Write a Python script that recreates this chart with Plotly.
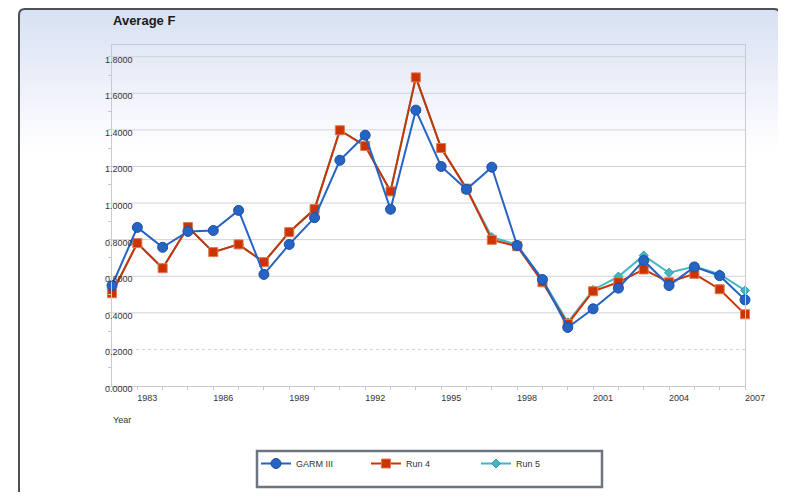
import plotly.graph_objects as go

YEARS = list(range(1982, 2008))
GARM_III = [0.549, 0.867, 0.758, 0.845, 0.850, 0.960, 0.610, 0.774, 0.920, 1.234,
            1.371, 0.966, 1.508, 1.200, 1.075, 1.196, 0.768, 0.582, 0.320, 0.422,
            0.535, 0.686, 0.549, 0.651, 0.603, 0.471]
RUN_4 = [0.507, 0.781, 0.644, 0.869, 0.732, 0.774, 0.677, 0.841, 0.967, 1.398,
         1.312, 1.064, 1.687, 1.301, 1.079, 0.799, 0.764, 0.567, 0.339, 0.518,
         0.567, 0.637, 0.567, 0.613, 0.529, 0.392]
RUN_5 = [0.507, 0.781, 0.644, 0.869, 0.732, 0.774, 0.677, 0.841, 0.967, 1.398,
         1.312, 1.064, 1.687, 1.301, 1.079, 0.814, 0.772, 0.580, 0.348, 0.525,
         0.598, 0.713, 0.619, 0.653, 0.611, 0.522]
Y_TICKS = [0.0, 0.2, 0.4, 0.6, 0.8, 1.0, 1.2, 1.4, 1.6, 1.8]
Y_TICK_TEXT = ["0.0000", "0.2000", "0.4000", "0.6000", "0.8000", "1.0000",
               "1.2000", "1.4000", "1.6000", "1.8000"]
X_LABEL_YEARS = [1983, 1986, 1989, 1992, 1995, 1998, 2001, 2004, 2007]

# page has an 8px default body margin on every side
OFF = 8
W, H = 786 - OFF, 500 - 2 * OFF
# plot area in screen pixels
L, R, T, B = 112, 745, 45, 386


def px(x):
    return (x - L) / (R - L)


def py(y):
    return (B - y) / (B - T)


fig = go.Figure()

BLUE = "#2563c4"
RED = "#cc3300"
TEAL = "#45b5c2"

fig.add_trace(go.Scatter(x=YEARS, y=RUN_5, name="Run 5", mode="lines+markers",
                         line=dict(color=TEAL, width=2),
                         marker=dict(symbol="diamond", size=7, color=TEAL,
                                     line=dict(color="#3a9aa6", width=1)),
                         cliponaxis=False))
fig.add_trace(go.Scatter(x=YEARS, y=RUN_4, name="Run 4", mode="lines+markers",
                         line=dict(color=RED, width=2),
                         marker=dict(symbol="square", size=9, color=RED,
                                     line=dict(color="#e07a50", width=1)),
                         cliponaxis=False))
fig.add_trace(go.Scatter(x=YEARS, y=GARM_III, name="GARM III", mode="lines+markers",
                         line=dict(color=BLUE, width=2),
                         marker=dict(symbol="circle", size=10, color=BLUE,
                                     line=dict(color="#1d4f9e", width=1)),
                         cliponaxis=False))

shapes = []
# background gradient
top_px, end_px = 9, 150
c0 = (216, 225, 242)
step = 3
y = top_px
while y < end_px:
    t = (y - top_px) / (end_px - top_px)
    c = tuple(int(round(c0[i] + (255 - c0[i]) * t)) for i in range(3))
    shapes.append(dict(type="rect", xref="paper", yref="paper",
                       x0=px(20), x1=px(780), y0=py(y + step + 0.5), y1=py(y),
                       fillcolor="rgb(%d,%d,%d)" % c, line=dict(width=0),
                       layer="below"))
    y += step

# gridlines
for v in Y_TICKS[1:]:
    shapes.append(dict(type="line", xref="paper", yref="y", x0=0, x1=1, y0=v, y1=v,
                       line=dict(color="#cfd3d9", width=1,
                                 dash="dot" if v == 0.2 else "solid"),
                       layer="below"))

# outer frame shadow + border
shapes.append(dict(type="rect", xref="paper", yref="paper",
                   x0=px(781), x1=px(786), y0=py(505), y1=py(12),
                   fillcolor="#a9a9a6", line=dict(width=0), layer="below"))
r = 6
x0, x1, y0, y1 = 19, 780, 9, 520
path = ("M {a},{b} L {c},{b} Q {x1},{b0} {x1},{d} L {x1},{e} L {x0},{e} L {x0},{d} Q {x0},{b0} {a},{b} Z"
        .format(a=px(x0 + r), b=py(y0), c=px(x1 - r), x1=px(x1), b0=py(y0),
                d=py(y0 + r), e=py(y1), x0=px(x0)))
shapes.append(dict(type="path", xref="paper", yref="paper", path=path,
                   line=dict(color="#4b5157", width=2), fillcolor="rgba(0,0,0,0)"))

# legend box
shapes.append(dict(type="rect", xref="paper", yref="paper",
                   x0=px(257), x1=px(602), y0=py(487), y1=py(451),
                   line=dict(color="#6b7680", width=2.5), fillcolor="rgba(0,0,0,0)"))

annotations = [
    dict(text="<b>Average F</b>", xref="paper", yref="paper", x=px(111), y=py(20),
         xanchor="left", yanchor="middle", showarrow=False,
         font=dict(size=13, color="#1a1a1a")),
    dict(text="Year", xref="paper", yref="paper", x=px(111), y=py(420),
         xanchor="left", yanchor="middle", showarrow=False,
         font=dict(size=9, color="#333333")),
]
for v, t in zip(Y_TICKS, Y_TICK_TEXT):
    annotations.append(dict(text=t, xref="paper", yref="y", x=px(103), y=v,
                            xanchor="left", yanchor="middle", yshift=-3,
                            showarrow=False, font=dict(size=9, color="#333333")))

fig.update_layout(
    width=W, height=H,
    margin=dict(l=L - OFF, r=W - (R - OFF), t=T - OFF, b=H - (B - OFF), pad=0),
    paper_bgcolor="white", plot_bgcolor="rgba(0,0,0,0)",
    font=dict(family="Liberation Sans, Arial, sans-serif", size=9, color="#333333"),
    showlegend=True,
    legend=dict(orientation="h", x=px(256), y=py(449), xanchor="left", yanchor="top",
                traceorder="reversed", entrywidth=65, entrywidthmode="pixels",
                itemwidth=30, bgcolor="rgba(0,0,0,0)", borderwidth=0,
                font=dict(size=9, color="#333333")),
    shapes=shapes,
    annotations=annotations,
    xaxis=dict(range=[1982, 2007], tickmode="array", tickvals=YEARS,
               ticktext=[str(y) if y in X_LABEL_YEARS else "" for y in YEARS],
               ticks="outside", ticklen=3, tickcolor="#c4c8ce",
               ticklabelshift=10, showgrid=False, zeroline=False,
               showline=True, linecolor="#c8ccd2", linewidth=1, mirror=True,
               tickfont=dict(size=9, color="#333333")),
    yaxis=dict(range=[0, 1.864], tickmode="array", tickvals=Y_TICKS,
               showticklabels=False, ticks="", showgrid=False, zeroline=False,
               showline=True, linecolor="#c8ccd2", linewidth=1, mirror=True,
               minor=dict(ticks="outside", ticklen=3, dtick=0.1, tickcolor="#c4c8ce",
                          showgrid=False)),
)

fig.write_html("out.html")
